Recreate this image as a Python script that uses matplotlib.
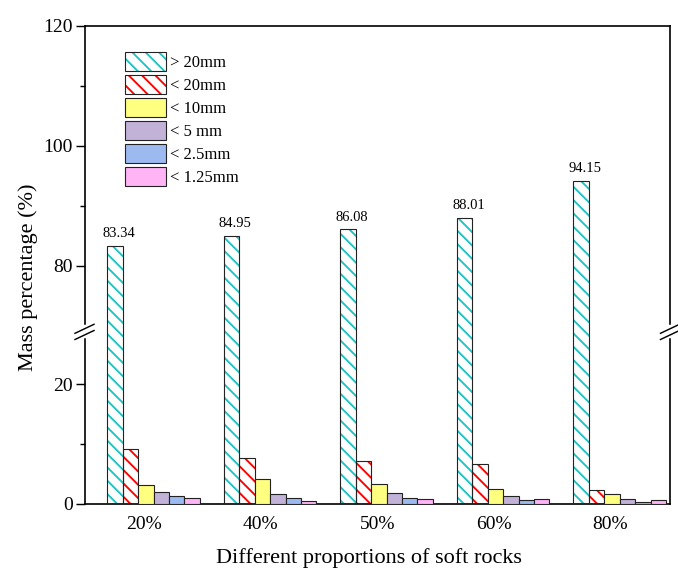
import numpy as np
import matplotlib
matplotlib.use("Agg")
import matplotlib.pyplot as plt
from matplotlib.patches import Patch
from matplotlib.lines import Line2D
from matplotlib.legend_handler import HandlerTuple
from matplotlib.ticker import FixedLocator, NullFormatter

# ---------------- data ----------------
categories = ["20%", "40%", "50%", "60%", "80%"]
series_names = ["> 20mm", "< 20mm", "< 10mm", "< 5 mm", "< 2.5mm", "< 1.25mm"]
gt20 = [83.34, 84.95, 86.08, 88.01, 94.15]
lt20 = [9.1, 7.7, 7.1, 6.6, 2.4]
lt10 = [3.1, 4.2, 3.3, 2.55, 1.6]
lt5 = [2.0, 1.6, 1.8, 1.3, 0.85]
lt25 = [1.4, 1.0, 0.95, 0.7, 0.4]
lt125 = [1.06, 0.55, 0.77, 0.84, 0.6]
series = [gt20, lt20, lt10, lt5, lt25, lt125]

# ---------------- style ----------------
face_colors = ["white", "white", "#FFFF80", "#C2B2D8", "#9DBAF0", "#FFB5F5"]
hatch_colors = ["#1CC4C4", "#FF0000", None, None, None, None]
HATCH = "\\\\"

plt.rcParams["font.family"] = ["Liberation Serif", "DejaVu Serif"]
plt.rcParams["hatch.linewidth"] = 1.7

DPI = 80
W, H = 678, 571
fig = plt.figure(figsize=(W / DPI, H / DPI), dpi=DPI)

def fx(x):
    return x / W

def fy(y):
    return 1 - y / H

ax = fig.add_axes([fx(85), fy(504), (670 - 85) / W, (504 - 26) / H])

# broken y scale
A = 28.75     # lower segment top
B = 69.08     # upper segment bottom
S = 1e-3
G = B - A

def fwd(v):
    v = np.asarray(v, dtype=float)
    return np.where(v <= A, v, np.where(v >= B, A + G * S + (v - B), A + (v - A) * S))

def inv(u):
    u = np.asarray(u, dtype=float)
    return np.where(u <= A, u,
                    np.where(u >= A + G * S, B + (u - A - G * S),
                             A + (u - A) / S))

ax.set_yscale("function", functions=(fwd, inv))
ax.set_ylim(0, 120)

n = len(categories)
x = np.arange(n)
w = 0.1326
for j, vals in enumerate(series):
    xs = x + (j - 2.5) * w
    if hatch_colors[j] is not None:
        ax.bar(xs, vals, w, color="white", edgecolor=hatch_colors[j],
               hatch=HATCH, linewidth=0, zorder=2)
        ax.bar(xs, vals, w, fill=False, edgecolor="#222222", linewidth=1.0, zorder=3)
    else:
        ax.bar(xs, vals, w, color=face_colors[j], edgecolor="#222222",
               linewidth=1.0, zorder=3)

# value labels above the >20mm bars
for i, v in enumerate(gt20):
    ax.annotate(f"{v:.2f}", (x[i] - 2.5 * w, v), xytext=(3.5, 8),
                textcoords="offset points", ha="center", va="baseline",
                fontsize=13)

ax.set_xlim(-0.588, 4.432)
ax.set_xticks(x - 0.08)
ax.set_xticklabels(categories)
ax.tick_params(axis="x", length=0, pad=11, labelsize=17.5)

ax.yaxis.set_major_locator(FixedLocator([0, 20, 80, 100, 120]))
ax.yaxis.set_minor_locator(FixedLocator([10, 90, 110]))
ax.yaxis.set_minor_formatter(NullFormatter())
ax.set_yticklabels(["0", "20", "80", "100", "120"])
ax.tick_params(axis="y", which="major", direction="out", length=8, width=1.3,
               pad=3, labelsize=17.5)
ax.tick_params(axis="y", which="minor", direction="out", length=4.5, width=1.3)

for sp in ax.spines.values():
    sp.set_linewidth(1.5)

ax.set_ylabel("Mass percentage (%)", fontsize=20)
ax.yaxis.set_label_coords(-0.080, 0.475)
ax.set_xlabel("Different proportions of soft rocks", fontsize=20)
ax.xaxis.set_label_coords(0.4855, -0.092)

# break marks on left and right spines
for xs_px in (84.5, 670):
    fig.add_artist(Line2D([fx(xs_px), fx(xs_px)], [fy(327), fy(336)],
                          color="white", linewidth=4, transform=fig.transFigure,
                          zorder=10))
    for yc in (328.8, 335.0):
        fig.add_artist(Line2D([fx(xs_px - 9.5), fx(xs_px + 9.5)],
                              [fy(yc + 4.5), fy(yc - 4.5)],
                              color="black", linewidth=1.3,
                              transform=fig.transFigure, zorder=11))

# legend
handles = []
for j in range(len(series)):
    if hatch_colors[j] is not None:
        h1 = Patch(facecolor="white", edgecolor=hatch_colors[j], hatch=HATCH, linewidth=0)
        h2 = Patch(fill=False, edgecolor="#222222", linewidth=1.0)
        handles.append((h1, h2))
    else:
        handles.append(Patch(facecolor=face_colors[j], edgecolor="#222222", linewidth=1.0))

ax.legend(handles, series_names, handler_map={tuple: HandlerTuple(ndivide=1)},
          loc="upper left", bbox_to_anchor=(fx(125), fy(52)),
          bbox_transform=fig.transFigure, frameon=False, borderpad=0,
          borderaxespad=0, fontsize=15, handlelength=2.46, handleheight=1.35,
          labelspacing=0.25, handletextpad=0.25)

fig.savefig("out.png", dpi=DPI)
